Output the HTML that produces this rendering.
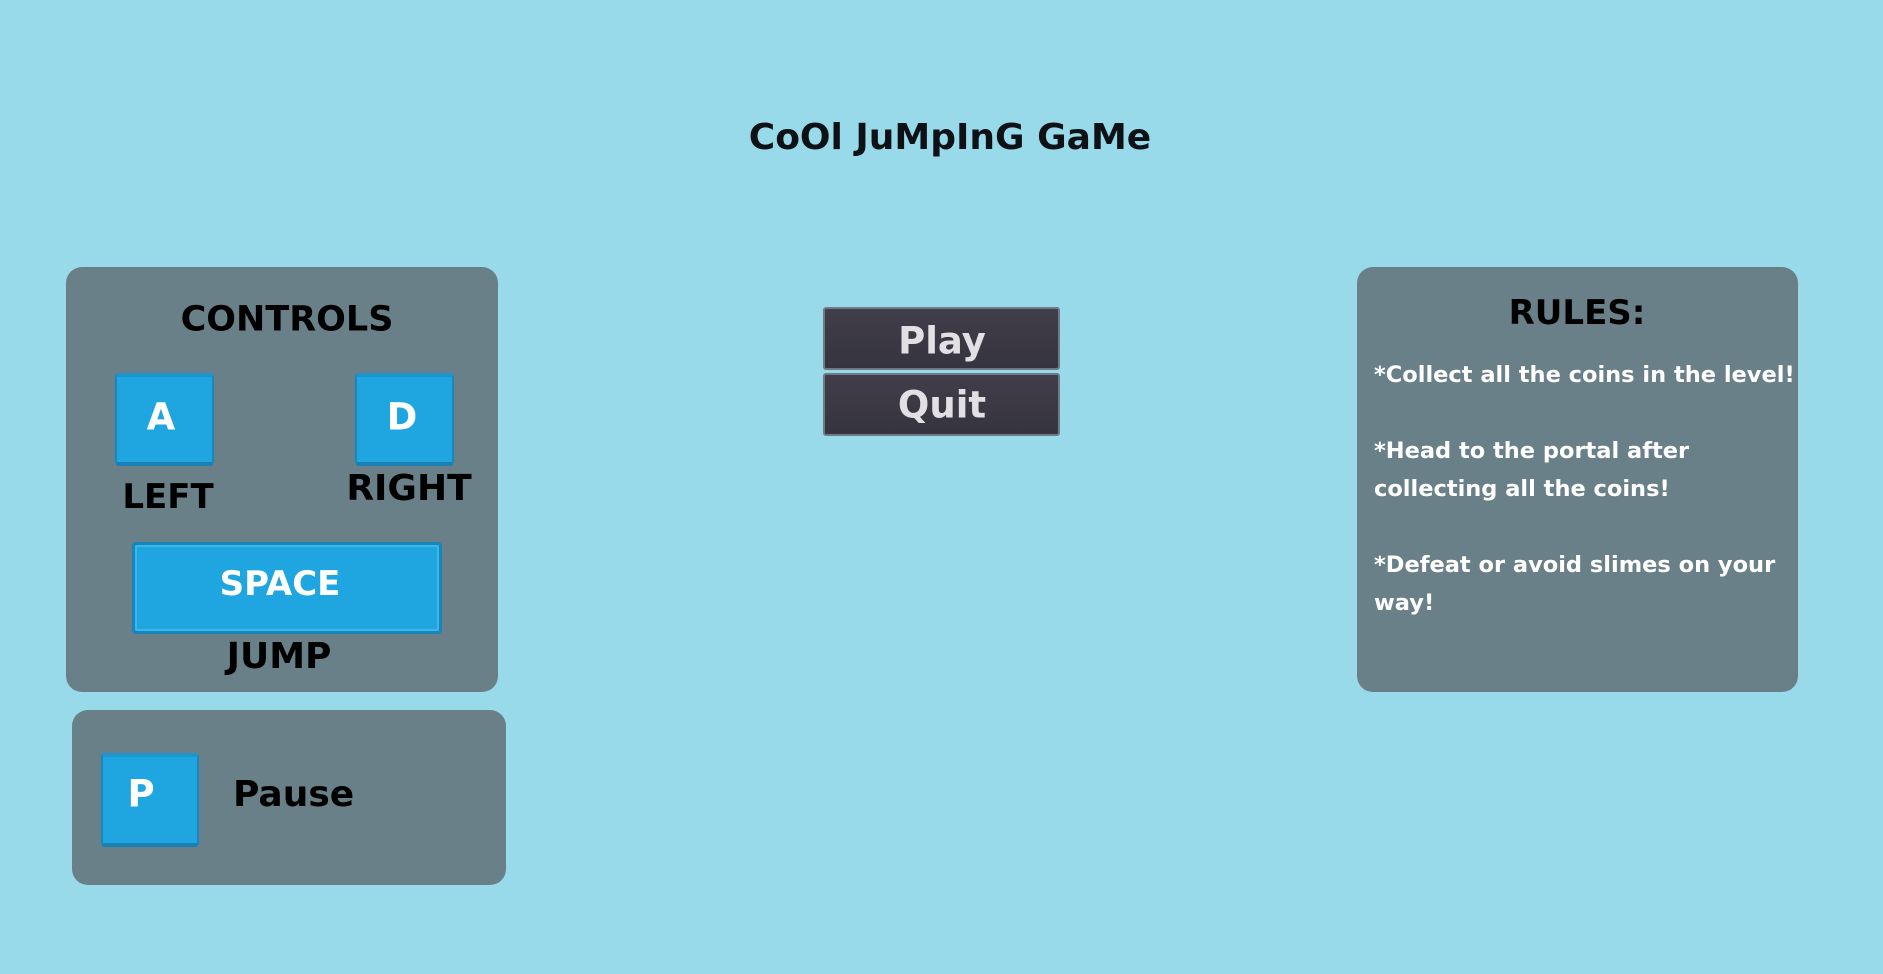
<!DOCTYPE html>
<html><head><meta charset="utf-8"><style>
html,body{margin:0;padding:0}
body{width:1883px;height:974px;background:#98d9ea;position:relative;overflow:hidden;font-family:"DejaVu Sans","Liberation Sans",sans-serif;font-weight:bold}
.p{position:absolute;background:#6a8089;border-radius:16px}
.k{position:absolute;background:#1fa6e0;border:2px solid #1b86bb;border-top:4px solid #1d95cf;border-bottom:4px solid #1a7fb5;border-radius:4px;box-sizing:border-box}
.b{position:absolute;background:linear-gradient(#413e4a,#36343f);border:2px solid #6f7a86;border-radius:3px;box-sizing:border-box}
.t{position:absolute;white-space:nowrap;transform:translate(-50%,-50%);line-height:1}
.l{position:absolute;white-space:nowrap;line-height:1;color:#fff}
</style></head><body>
<div class="t" style="left:950px;top:138px;font-size:36px;color:#0e1216">CoOl JuMpInG GaMe</div>

<div class="p" style="left:66px;top:267px;width:432px;height:425px"></div>
<div class="p" style="left:72px;top:710px;width:434px;height:175px"></div>
<div class="p" style="left:1357px;top:267px;width:441px;height:425px"></div>

<div class="t" style="left:287px;top:320px;font-size:35px;color:#000">CONTROLS</div>
<div class="k" style="left:115px;top:373px;width:99px;height:93px"></div>
<div class="k" style="left:355px;top:373px;width:99px;height:93px"></div>
<div class="k" style="left:132px;top:542px;width:310px;height:92px;border:3px solid #1a85bb;box-shadow:inset 0 0 0 2px #3ab6ea"></div>
<div class="k" style="left:101px;top:753px;width:98px;height:94px"></div>
<div class="t" style="left:161px;top:417px;font-size:37px;color:#fff">A</div>
<div class="t" style="left:402px;top:417px;font-size:37px;color:#fff">D</div>
<div class="t" style="left:168px;top:497px;font-size:34px;color:#000">LEFT</div>
<div class="t" style="left:409px;top:489px;font-size:36px;color:#000">RIGHT</div>
<div class="t" style="left:280px;top:584px;font-size:34px;color:#fff">SPACE</div>
<div class="t" style="left:279px;top:657px;font-size:36px;color:#000">JUMP</div>
<div class="t" style="left:141px;top:794px;font-size:37px;color:#fff">P</div>
<div class="l" style="left:233px;top:777px;font-size:36px;color:#000">Pause</div>

<div class="b" style="left:823px;top:307px;width:237px;height:63px"></div>
<div class="b" style="left:823px;top:373px;width:237px;height:63px"></div>
<div class="t" style="left:942px;top:341px;font-size:37px;color:#e2e0e4">Play</div>
<div class="t" style="left:942px;top:405px;font-size:37px;color:#e2e0e4">Quit</div>

<div class="t" style="left:1577px;top:313px;font-size:34px;color:#000">RULES:</div>
<div class="l" style="left:1374px;top:356px;font-size:22.5px;line-height:38px">*Collect all the coins in the level!<br><br>*Head to the portal after<br>collecting all the coins!<br><br>*Defeat or avoid slimes on your<br>way!</div>
</body></html>
